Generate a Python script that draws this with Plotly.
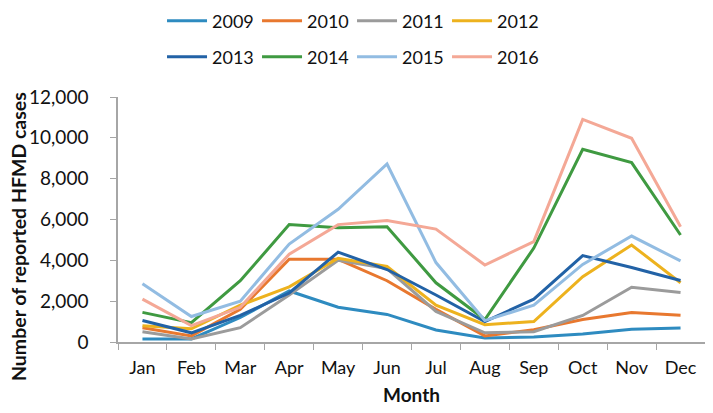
import plotly.graph_objects as go

months = ["Jan", "Feb", "Mar", "Apr", "May", "Jun", "Jul", "Aug", "Sep", "Oct", "Nov", "Dec"]

y2009 = [150, 150, 1200, 2500, 1700, 1350, 590, 200, 250, 390, 620, 690]
y2010 = [700, 300, 1600, 4050, 4050, 3000, 1600, 300, 600, 1100, 1440, 1310]
y2011 = [500, 150, 700, 2300, 4000, 3600, 1500, 450, 500, 1300, 2680, 2420]
y2012 = [800, 650, 1800, 2700, 4100, 3700, 1800, 850, 1000, 3200, 4750, 2900]
y2013 = [1050, 450, 1300, 2400, 4400, 3550, 2300, 1000, 2100, 4230, 3650, 3010]
y2014 = [1450, 950, 3000, 5750, 5600, 5650, 2900, 1100, 4600, 9440, 8790, 5240]
y2015 = [2850, 1250, 2000, 4800, 6500, 8720, 3890, 1050, 1800, 3800, 5190, 3970]
y2016 = [2100, 800, 1700, 4300, 5750, 5950, 5530, 3770, 4920, 10900, 9980, 5650]

series = [
    ("2009", y2009, "#2E8BC0", "legend"),
    ("2010", y2010, "#E8782F", "legend"),
    ("2011", y2011, "#9B9B9B", "legend"),
    ("2012", y2012, "#EDB21E", "legend"),
    ("2013", y2013, "#2262A6", "legend2"),
    ("2014", y2014, "#3F9A41", "legend2"),
    ("2015", y2015, "#92BCE2", "legend2"),
    ("2016", y2016, "#F4A896", "legend2"),
]

fig = go.Figure()
for name, vals, color, lg in series:
    fig.add_trace(go.Scatter(x=months, y=vals, name=name, mode="lines",
                             line=dict(color=color, width=3), legend=lg))

font = "Lato"
leg_common = dict(orientation="h", xanchor="left", yanchor="middle",
                  font=dict(family=font, size=18, color="#111"),
                  bgcolor="rgba(0,0,0,0)", entrywidth=40, entrywidthmode="pixels",
                  tracegroupgap=0, itemwidth=40)

fig.update_layout(
    width=713, height=413,
    margin=dict(l=110, r=16, t=89, b=79, autoexpand=False),
    paper_bgcolor="white", plot_bgcolor="white",
    font=dict(family=font, size=16, color="#111"),
    showlegend=True,
    legend=dict(x=0.075, y=1.31, **leg_common),
    legend2=dict(x=0.075, y=1.163, **leg_common),
    xaxis=dict(
        type="category", range=[-0.5, 11.5], showline=True, linecolor="#A6A6A6", linewidth=1.5,
        ticks="outside", tickson="boundaries", ticklen=6, tickcolor="#A6A6A6",
        showgrid=False, tickfont=dict(family=font, size=18, color="#111"),
        ticklabelstandoff=9,
        title=dict(text="<b>Month</b>", font=dict(family=font, size=19, color="#111"), standoff=11),
    ),
    yaxis=dict(
        range=[0, 12000], dtick=2000, tickformat=",", showline=True,
        linecolor="#A6A6A6", linewidth=1.5, ticks="outside", ticklen=6,
        tickcolor="#A6A6A6", showgrid=False, zeroline=False,
        tickfont=dict(family=font, size=19, color="#111"),
        ticklabelstandoff=18,
    ),
    annotations=[dict(
        text="<b>Number of reported HFMD cases</b>", textangle=-90,
        xref="paper", yref="paper", x=(18 - 118) / 587, y=(342 - 237) / 245,
        xanchor="center", yanchor="middle", showarrow=False,
        font=dict(family=font, size=19.5, color="#111"),
    )],
)

fig.write_html("out.html")
